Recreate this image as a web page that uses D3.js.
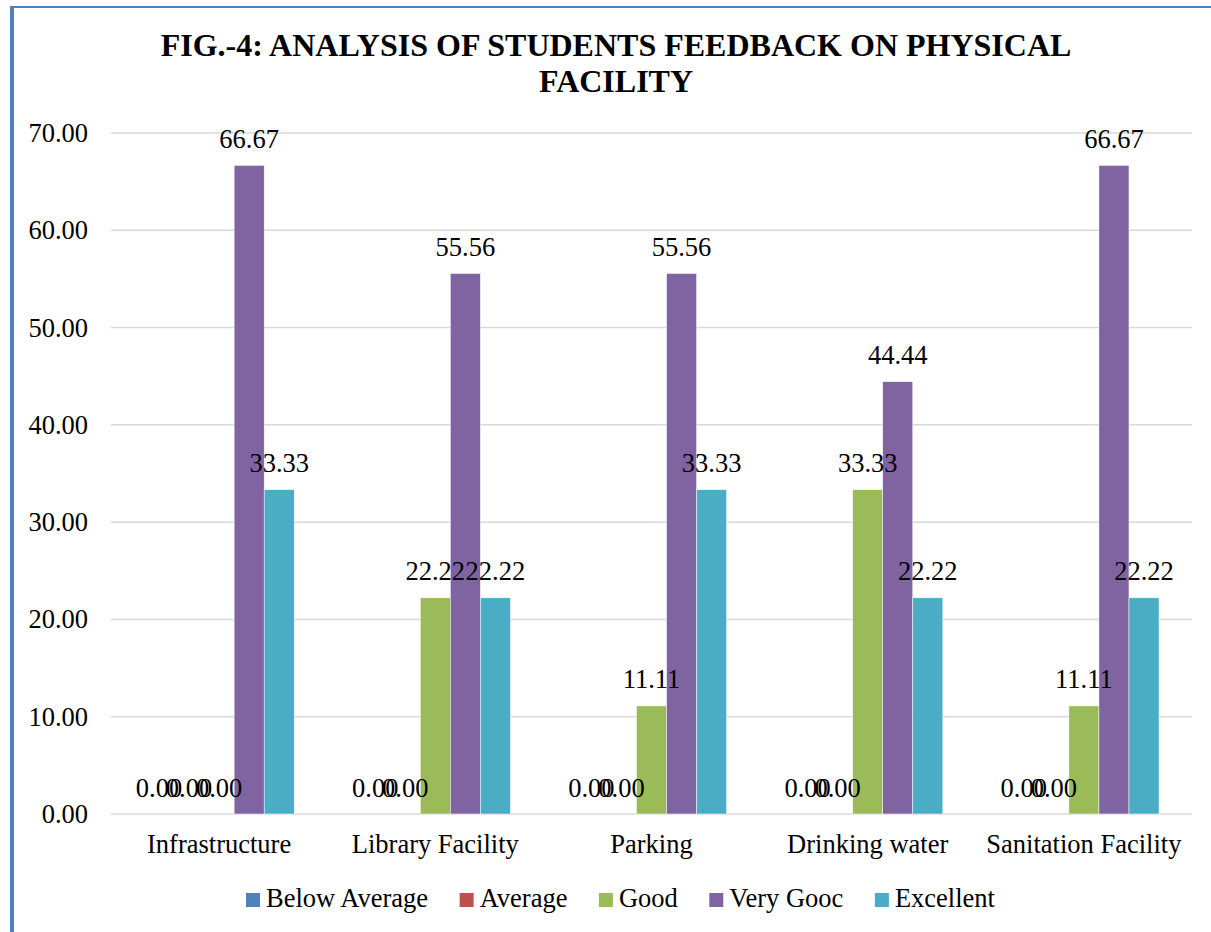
<!DOCTYPE html>
<html>
<head>
<meta charset="utf-8">
<script src="https://cdn.jsdelivr.net/npm/d3@7"></script>
<style>
  body { margin: 0; background: #fff; }
  svg { display: block; }
  svg text { font-family: "Liberation Serif", "Times New Roman", serif; }
</style>
</head>
<body>
<div id="chart"></div>
<script>
// chart data
var categories = ['Infrastructure', 'Library Facility', 'Parking', 'Drinking water', 'Sanitation Facility'];
var seriesNames = ['Below Average', 'Average', 'Good', 'Very Gooc', 'Excellent'];
var seriesColors = ['#4F81BD', '#C0504D', '#9BBB59', '#8064A2', '#4BACC6'];
var belowAverage = [0, 0, 0, 0, 0];
var average = [0, 0, 0, 0, 0];
var good = [0, 22.22, 11.11, 33.33, 11.11];
var veryGood = [66.67, 55.56, 55.56, 44.44, 66.67];
var excellent = [33.33, 22.22, 33.33, 22.22, 22.22];
var yTicks = [0, 10, 20, 30, 40, 50, 60, 70];

var WIDTH = 1211;
var HEIGHT = 932;
var FS = '26.5px';

var seriesValues = [belowAverage, average, good, veryGood, excellent];

var svg = d3.select('#chart')
  .append('svg')
  .attr('width', WIDTH)
  .attr('height', HEIGHT);

// frame (left + top blue border)
svg.append('rect').attr('x', 10).attr('y', 6).attr('width', WIDTH - 10).attr('height', 2).attr('fill', '#4F81BD');
svg.append('rect').attr('x', 10).attr('y', 6).attr('width', 4).attr('height', HEIGHT - 6).attr('fill', '#4F81BD');

// title
var title = svg.append('text')
  .attr('text-anchor', 'middle')
  .attr('font-weight', 'bold')
  .attr('font-size', '32px')
  .attr('fill', '#000');
title.append('tspan').attr('x', 616).attr('y', 56).text('FIG.-4: ANALYSIS OF STUDENTS FEEDBACK ON PHYSICAL');
title.append('tspan').attr('x', 616).attr('y', 92).text('FACILITY');

var y = d3.scaleLinear().domain([0, 70]).range([814, 133]);

var x0 = d3.scaleBand()
  .domain(categories)
  .range([111, 1192])
  .paddingInner(0.305)
  .paddingOuter(0.1525);

var x1 = d3.scaleBand()
  .domain(seriesNames)
  .range([0, x0.bandwidth()]);

// gridlines
svg.append('g')
  .selectAll('line')
  .data(yTicks)
  .join('line')
  .attr('x1', 111)
  .attr('x2', 1192)
  .attr('y1', function(d) { return y(d); })
  .attr('y2', function(d) { return y(d); })
  .attr('stroke', '#D9D9D9')
  .attr('stroke-width', 1.5);

// y axis labels
var yAxis = d3.axisLeft(y)
  .tickValues(yTicks)
  .tickSize(0)
  .tickPadding(0)
  .tickFormat(d3.format('.2f'));

var yg = svg.append('g')
  .attr('transform', 'translate(88,0)')
  .call(yAxis);
yg.select('.domain').remove();
yg.attr('font-family', null).attr('font-size', FS);
yg.selectAll('text').attr('fill', '#000');

// x axis labels
var xAxis = d3.axisBottom(x0).tickSize(0).tickPadding(0);
var xg = svg.append('g')
  .attr('transform', 'translate(0,814)')
  .call(xAxis);
xg.select('.domain').remove();
xg.attr('font-family', null).attr('font-size', FS);
xg.selectAll('text')
  .attr('fill', '#000')
  .attr('dy', null)
  .attr('y', 39);

var cells = [];
categories.forEach(function(cat, ci) {
  seriesNames.forEach(function(s, si) {
    cells.push({ category: cat, series: s, color: seriesColors[si], value: seriesValues[si][ci] });
  });
});

function barX(d) { return x0(d.category) + x1(d.series); }

// bars
svg.append('g')
  .selectAll('rect')
  .data(cells)
  .join('rect')
  .attr('x', barX)
  .attr('width', x1.bandwidth())
  .attr('y', function(d) { return y(d.value); })
  .attr('height', function(d) { return y(0) - y(d.value); })
  .attr('fill', function(d) { return d.color; })
  .attr('stroke', '#fff')
  .attr('stroke-width', 0.5);

// value labels, drawn over all bars
svg.append('g')
  .selectAll('text')
  .data(cells)
  .join('text')
  .attr('x', function(d) { return barX(d) + x1.bandwidth() / 2; })
  .attr('y', function(d) { return y(d.value) - 17.5; })
  .attr('text-anchor', 'middle')
  .attr('font-size', FS)
  .attr('fill', '#000')
  .text(function(d) { return d3.format('.2f')(d.value); });

// legend
var legend = svg.append('g');
var lx = 246;
seriesNames.forEach(function(name, i) {
  legend.append('rect')
    .attr('x', lx)
    .attr('y', 893)
    .attr('width', 14)
    .attr('height', 14)
    .attr('fill', seriesColors[i]);
  var t = legend.append('text')
    .attr('x', lx + 20)
    .attr('y', 907)
    .attr('font-size', FS)
    .attr('fill', '#000')
    .text(name);
  lx += 20 + t.node().getComputedTextLength() + 31.5;
});
</script>
</body>
</html>
